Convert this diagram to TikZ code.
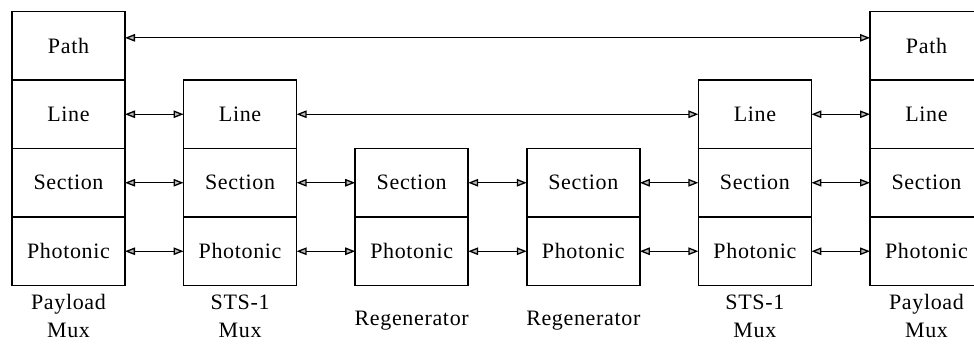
\documentclass[tikz,border=0pt]{standalone}
\usepackage{fontspec}
\setmainfont{Liberation Serif}[LetterSpace=3]
\usetikzlibrary{arrows.meta, positioning}

\begin{document}
\begin{tikzpicture}[
        x=1pt, y=1pt,
        layer/.style={rectangle, draw=black, line width=1.6pt, minimum width=113pt, minimum height=68.5pt, outer sep=0pt, inner sep=0pt, align=center, font=\fontsize{22}{28}\selectfont},
        caption/.style={inner sep=0pt, align=center, font=\fontsize{22}{28}\selectfont},
        arrow/.style={<->, line width=1.3pt, >={Triangle[length=10pt, width=7.5pt, fill=gray!55]}}
    ]
        \useasboundingbox (0,0) rectangle (974,349);

        % payload mux (left)
        \node[layer] (pmuxAphot) at (68.5,97.75) {Photonic};
        \node[layer, above=0pt of pmuxAphot] (pmuxAsect) {Section};
        \node[layer, above=0pt of pmuxAsect] (pmuxAline) {Line};
        \node[layer, above=0pt of pmuxAline] (pmuxApath) {Path};
        \node[caption, below=9pt of pmuxAphot] (pmuxAcap) {Payload\\Mux};

        % sts-1 mux (left)
        \node[layer] (stsAphot) at (240.1,97.75) {Photonic};
        \node[layer, above=0pt of stsAphot] (stsAsect) {Section};
        \node[layer, above=0pt of stsAsect] (stsAline) {Line};
        \node[caption, below=9pt of stsAphot] (stsAcap) {STS-1\\Mux};

        % regenerators
        \node[layer] (regAphot) at (411.7,97.75) {Photonic};
        \node[layer, above=0pt of regAphot] (regAsect) {Section};
        \node[caption, below=25pt of regAphot] (regAcap) {Regenerator};

        \node[layer] (regBphot) at (583.3,97.75) {Photonic};
        \node[layer, above=0pt of regBphot] (regBsect) {Section};
        \node[caption, below=25pt of regBphot] (regBcap) {Regenerator};

        % sts-1 mux (right)
        \node[layer] (stsBphot) at (754.9,97.75) {Photonic};
        \node[layer, above=0pt of stsBphot] (stsBsect) {Section};
        \node[layer, above=0pt of stsBsect] (stsBline) {Line};
        \node[caption, below=9pt of stsBphot] (stsBcap) {STS-1\\Mux};

        % payload mux (right)
        \node[layer] (pmuxBphot) at (926.5,97.75) {Photonic};
        \node[layer, above=0pt of pmuxBphot] (pmuxBsect) {Section};
        \node[layer, above=0pt of pmuxBsect] (pmuxBline) {Line};
        \node[layer, above=0pt of pmuxBline] (pmuxBpath) {Path};
        \node[caption, below=9pt of pmuxBphot] (pmuxBcap) {Payload\\Mux};

        % peer links
        \draw[arrow] (pmuxApath.8) -- (pmuxBpath.172);

        \draw[arrow] (pmuxAline) -- (stsAline);
        \draw[arrow] (stsAline) -- (stsBline);
        \draw[arrow] (stsBline) -- (pmuxBline);

        \draw[arrow] (pmuxAsect) -- (stsAsect);
        \draw[arrow] (stsAsect) -- (regAsect);
        \draw[arrow] (regAsect) -- (regBsect);
        \draw[arrow] (regBsect) -- (stsBsect);
        \draw[arrow] (stsBsect) -- (pmuxBsect);

        \draw[arrow] (pmuxAphot) -- (stsAphot);
        \draw[arrow] (stsAphot) -- (regAphot);
        \draw[arrow] (regAphot) -- (regBphot);
        \draw[arrow] (regBphot) -- (stsBphot);
        \draw[arrow] (stsBphot) -- (pmuxBphot);
\end{tikzpicture}
\end{document}
